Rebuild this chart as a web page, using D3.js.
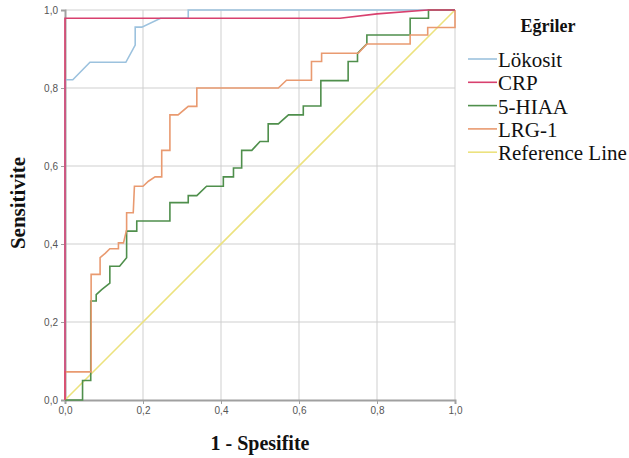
<!DOCTYPE html>
<html><head><meta charset="utf-8">
<script src="https://cdn.jsdelivr.net/npm/d3@7"></script>
<style>body{margin:0;background:#fff}svg{display:block}</style>
</head><body>
<svg id="c" width="629" height="458"></svg>
<script>
// ---- data ----
const seriesNames = ["Lökosit", "CRP", "5-HIAA", "LRG-1", "Reference Line"];
const tickValues = [0, 0.2, 0.4, 0.6, 0.8, 1.0];
const tickLabels = ["0,0", "0,2", "0,4", "0,6", "0,8", "1,0"];

const lokositFpr  = [0, 0, 0.02, 0.064, 0.156, 0.18, 0.18, 0.197, 0.245, 0.316, 0.316, 1];
const lokositSens = [0, 0.821, 0.821, 0.866, 0.866, 0.91, 0.956, 0.956, 0.979, 0.979, 1, 1];

const crpFpr  = [0, 0, 0.705, 0.8, 0.93, 1];
const crpSens = [0, 0.979, 0.979, 0.99, 1, 1];

const hiaaFpr  = [0, 0.045, 0.045, 0.066, 0.066, 0.08, 0.08, 0.094, 0.115, 0.115, 0.14, 0.158, 0.158, 0.184, 0.184, 0.269, 0.269, 0.316, 0.316, 0.338, 0.363, 0.406, 0.406, 0.432, 0.432, 0.453, 0.453, 0.479, 0.5, 0.521, 0.521, 0.547, 0.573, 0.611, 0.611, 0.656, 0.656, 0.726, 0.726, 0.75, 0.75, 0.774, 0.774, 0.885, 0.885, 0.932, 0.932, 1];
const hiaaSens = [0, 0, 0.05, 0.05, 0.254, 0.254, 0.27, 0.283, 0.3, 0.343, 0.343, 0.365, 0.433, 0.433, 0.459, 0.459, 0.506, 0.506, 0.524, 0.524, 0.548, 0.548, 0.572, 0.572, 0.595, 0.595, 0.64, 0.64, 0.663, 0.663, 0.708, 0.708, 0.731, 0.731, 0.754, 0.754, 0.819, 0.819, 0.868, 0.868, 0.889, 0.913, 0.936, 0.936, 0.979, 0.979, 1, 1];

const lrgFpr  = [0, 0, 0.067, 0.067, 0.09, 0.09, 0.103, 0.115, 0.137, 0.137, 0.15, 0.158, 0.158, 0.175, 0.178, 0.2, 0.214, 0.231, 0.248, 0.248, 0.269, 0.269, 0.29, 0.316, 0.338, 0.338, 0.547, 0.568, 0.632, 0.632, 0.658, 0.658, 0.752, 0.774, 0.885, 0.885, 0.93, 0.93, 1, 1];
const lrgSens = [0, 0.072, 0.072, 0.322, 0.322, 0.365, 0.376, 0.388, 0.388, 0.403, 0.403, 0.437, 0.48, 0.48, 0.548, 0.548, 0.561, 0.572, 0.572, 0.64, 0.64, 0.731, 0.731, 0.753, 0.753, 0.8, 0.8, 0.82, 0.82, 0.868, 0.868, 0.889, 0.889, 0.913, 0.913, 0.936, 0.936, 0.955, 0.955, 1];

const refFpr  = [0, 1];
const refSens = [0, 1];

const colors = ["#9cc2de", "#d8406e", "#4f8f4c", "#e99a70", "#ece27e"];

// ---- chart ----
const serif = "'Liberation Serif', 'Times New Roman', serif";
const svg = d3.select("#c");
const x = d3.scaleLinear().domain([0, 1]).range([65, 455]);
const y = d3.scaleLinear().domain([0, 1]).range([400, 10]);

// grid
const g = svg.append("g");
g.selectAll("line.vx").data(tickValues.slice(1)).join("line")
  .attr("x1", d => x(d)).attr("x2", d => x(d)).attr("y1", y(0)).attr("y2", y(1))
  .attr("stroke", "#cfcfcf").attr("stroke-width", 1);
g.selectAll("line.hy").data(tickValues.slice(1)).join("line")
  .attr("x1", x(0)).attr("x2", x(1)).attr("y1", d => y(d)).attr("y2", d => y(d))
  .attr("stroke", "#cfcfcf").attr("stroke-width", 1);

// axes
const xAxis = d3.axisBottom(x).tickValues(tickValues).tickFormat((d, i) => tickLabels[i]).tickSize(4).tickPadding(3);
const yAxis = d3.axisLeft(y).tickValues(tickValues).tickFormat((d, i) => tickLabels[i]).tickSize(4).tickPadding(3);
const ax = svg.append("g").attr("transform", `translate(0,${y(0)})`).call(xAxis);
const ay = svg.append("g").attr("transform", `translate(${x(0)},0)`).call(yAxis);
[ax, ay].forEach(a => {
  a.select(".domain").attr("stroke", "#a0a0a0").attr("stroke-width", 2);
  a.selectAll(".tick line").attr("stroke", "#a0a0a0");
  a.selectAll(".tick text").attr("fill", "#555").attr("font-family", "'Liberation Sans', Arial, sans-serif").attr("font-size", 10);
});

// curves
const line = d3.line().x(d => x(d[0])).y(d => y(d[1]));
const series = [
  [lokositFpr, lokositSens],
  [crpFpr, crpSens],
  [hiaaFpr, hiaaSens],
  [lrgFpr, lrgSens],
  [refFpr, refSens]
].map((s, i) => ({name: seriesNames[i], color: colors[i], pts: s[0].map((f, j) => [f, s[1][j]])}));

const drawOrder = [4, 0, 2, 3, 1];
drawOrder.forEach(i => {
  svg.append("path").datum(series[i].pts)
    .attr("d", line).attr("fill", "none")
    .attr("stroke", series[i].color).attr("stroke-width", 1.6)
    .attr("stroke-linejoin", "miter");
});

// axis titles
svg.append("text").attr("x", 260).attr("y", 450).attr("text-anchor", "middle")
  .attr("font-family", serif).attr("font-weight", "bold")
  .attr("font-size", 20).attr("fill", "#111").text("1 - Spesifite");
svg.append("text").attr("transform", "translate(25,203) rotate(-90)").attr("text-anchor", "middle")
  .attr("font-family", serif).attr("font-weight", "bold")
  .attr("font-size", 21).attr("fill", "#111").text("Sensitivite");

// legend
const lg = svg.append("g");
lg.append("text").attr("x", 548).attr("y", 32).attr("text-anchor", "middle")
  .attr("font-family", serif).attr("font-weight", "bold")
  .attr("font-size", 18).attr("fill", "#111").text("Eğriler");
series.forEach((s, i) => {
  const by = 67 + i * 23.3;
  lg.append("line").attr("x1", 468).attr("x2", 497).attr("y1", by - 8).attr("y2", by - 8)
    .attr("stroke", s.color).attr("stroke-width", 1.6);
  lg.append("text").attr("x", 498).attr("y", by)
    .attr("font-family", serif)
    .attr("font-size", 21).attr("fill", "#111").text(s.name);
});
</script>
</body></html>
